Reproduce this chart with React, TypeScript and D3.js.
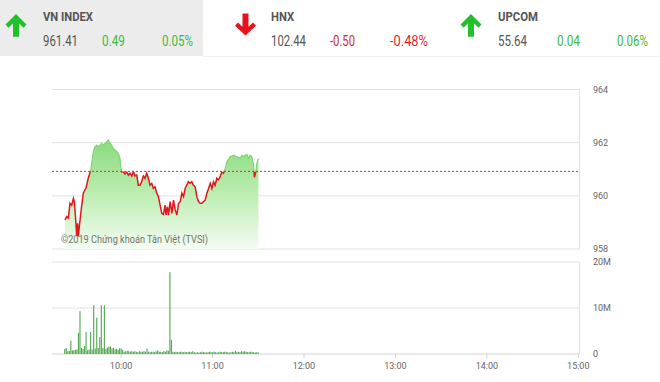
import React from "react";
import * as d3 from "d3";

// ---------- DATA ----------
const indexNames = ["VN INDEX", "HNX", "UPCOM"];
const indexValues = ["961.41", "102.44", "55.64"];
const indexChanges = ["0.49", "-0.50", "0.04"];
const indexPercents = ["0.05%", "-0.48%", "0.06%"];
const indexUp = [true, false, true];

const refPrice = 960.92;
const priceTicks = [958, 960, 962, 964];
const volumeTicks = [0, 10, 20];
const volumeTickLabels = ["0", "10M", "20M"];
const timeTicks = [600, 660, 720, 780, 840, 900];
const timeTickLabels = ["10:00", "11:00", "12:00", "13:00", "14:00", "15:00"];

// minutes after 9:00
const priceMinutes = [
  23.2, 24.4, 25.4, 26.5, 27.6, 28.7, 29.3, 30.0, 30.9, 31.5, 31.9, 33.1, 34.2, 35.2, 37.0, 38.5,
  40.1, 41.8, 42.9, 44.0, 45.1, 46.2, 47.3, 48.4, 49.5, 50.6, 51.6, 52.8, 53.9, 54.9, 56.1, 57.2,
  58.2, 59.3, 59.8, 60.5, 61.5, 62.6, 63.7, 64.8, 65.9, 67.0, 68.1, 69.2, 70.3, 71.3, 72.4, 73.5,
  74.6, 75.7, 76.8, 77.9, 79.0, 80.1, 81.2, 82.3, 83.4, 84.5, 85.6, 86.7, 87.8, 88.9, 89.5, 90.4,
  91.1, 92.2, 93.3, 94.4, 95.5, 96.6, 97.7, 98.8, 99.9, 101.0, 102.0, 103.1, 104.2, 105.3, 106.4,
  107.5, 108.6, 109.7, 110.8, 111.9, 113.0, 114.0, 115.2, 116.3, 117.4, 118.5, 119.6, 120.6, 121.7,
  122.8, 123.9, 125.0, 126.1, 127.2, 128.3, 129.4, 131.6, 133.8, 136.0, 138.1, 139.2, 140.3, 141.4,
  142.5, 143.6, 144.7, 145.8, 146.9, 147.5, 148.4, 149.1, 150.1,
];
const priceValues = [
  959.1, 959.22, 959.16, 959.72, 959.65, 959.9, 959.78, 959.28, 958.5, 958.97, 958.47, 959.1, 959.65, 960.1, 960.3, 960.67,
  960.97, 961.66, 961.85, 961.9, 961.85, 961.9, 961.98, 961.9, 961.98, 962.04, 962.1, 961.98, 961.9, 961.78, 961.72, 961.66,
  961.6, 961.4, 961.1, 960.9, 960.9, 960.82, 960.9, 960.78, 960.85, 960.75, 960.9, 960.75, 960.78, 960.4, 960.4, 960.53,
  960.75, 960.66, 960.85, 960.66, 960.4, 960.47, 960.28, 960.34, 960.1, 959.97, 959.65, 959.34, 959.3, 959.65, 959.28, 959.59,
  959.28, 959.78, 959.34, 959.84, 959.47, 959.28, 959.72, 959.78, 960.1, 959.97, 960.28, 960.4, 960.53, 960.47, 960.53,
  960.4, 960.34, 959.97, 959.78, 959.72, 959.72, 959.78, 959.84, 960.1, 960.28, 960.47, 960.28, 960.53, 960.4,
  960.66, 960.6, 960.72, 960.9, 960.85, 961.03, 961.28, 961.47, 961.53, 961.47, 961.41, 961.53, 961.47, 961.53,
  961.56, 961.41, 961.53, 961.47, 961.16, 960.7, 960.9, 961.22, 961.41,
];

// one bar per minute, from 9:23 to 11:30 (millions of shares)
const volumeStartMinute = 23;
const volumeValues = [
  1.1, 1.3, 0.6, 0.7, 2.9, 0.8, 0.8, 0.9, 1.0, 4.6, 9.3, 1.3, 1.1, 1.7, 4.8, 0.8,
  1.0, 4.8, 1.0, 10.6, 1.2, 7.9, 1.3, 3.7, 10.6, 1.3, 10.6, 1.1, 1.4, 1.6, 1.6, 1.2,
  1.3, 1.0, 1.1, 0.9, 1.2, 1.2, 0.9, 0.5, 0.6, 0.7, 0.6, 0.5, 0.6, 0.5, 0.6, 0.5,
  0.4, 0.6, 0.5, 0.5, 0.6, 0.5, 1.2, 0.5, 0.4, 0.5, 0.5, 0.4, 0.6, 0.8, 0.5, 0.5,
  0.4, 0.6, 0.5, 0.8, 0.7, 17.8, 3.1, 0.5, 0.4, 0.5, 0.4, 0.4, 0.5, 0.4, 0.4, 0.5,
  0.4, 0.4, 0.5, 0.4, 0.6, 0.4, 0.3, 0.4, 0.3, 0.4, 0.5, 0.4, 0.4, 0.3, 0.4, 0.5,
  0.4, 0.4, 0.5, 0.4, 0.3, 0.4, 0.5, 0.4, 0.4, 0.5, 0.4, 0.4, 0.3, 0.4, 0.5, 0.4,
  0.7, 0.4, 0.5, 0.4, 0.6, 0.5, 0.6, 0.5, 0.4, 0.4, 0.5, 0.4, 0.4, 0.3, 0.4, 0.3,
];

const watermark = "©2019 Chứng khoán Tân Việt (TVSI)";

// ---------- LAYOUT ----------
const W = 660;
const H = 382;
const plotLeft = 52;
const plotRight = 579.5;

const x = d3.scaleLinear().domain([555, 900]).range([52.5, 578.3]);
const yP = d3.scaleLinear().domain([958, 964]).range([249, 89.5]);
const yV = d3.scaleLinear().domain([0, 20]).range([354, 262]);

const FONT = "Roboto, 'Liberation Sans', Arial, sans-serif";

function Arrow({ up, ox }: { up: boolean; ox: number }) {
  const pts = up
    ? [[16, 14], [26.5, 24.5], [23.5, 27.8], [19, 23.4], [19, 36.7], [13, 36.7], [13, 23.4], [8.5, 27.8], [5.5, 24.5]]
    : [[13, 13.5], [19, 13.5], [19, 26.8], [23.5, 22.4], [26.5, 25.7], [16, 35.5], [5.5, 25.7], [8.5, 22.4], [13, 26.8]];
  return (
    <polygon
      points={pts.map((p) => `${p[0] + ox},${p[1]}`).join(" ")}
      fill={up ? "#22c02a" : "#e5141c"}
    />
  );
}

export default function App() {
  const pts = priceMinutes.map((t, i) => ({ m: 540 + t, v: priceValues[i] }));
  const lineGen = d3
    .line<{ m: number; v: number }>()
    .x((d) => x(d.m))
    .y((d) => yP(d.v));
  const areaGen = d3
    .area<{ m: number; v: number }>()
    .x((d) => x(d.m))
    .y0(yP(958))
    .y1((d) => yP(d.v));
  const linePath = lineGen(pts) || "";
  const areaPath = areaGen(pts) || "";
  const refY = yP(refPrice);

  const headerOffsets = [0, 228, 455];
  const nameLens = [50, 23, 40];
  const valLens = [35, 35, 29];
  const chgLens = [23, 25, 23];
  const pctLens = [31, 38, 31];

  return (
    <svg
      width={W}
      height={H}
      style={{ position: "absolute", left: 0, top: 0, background: "#fff" }}
      fontFamily={FONT}
    >
      <defs>
        <linearGradient id="areaGrad" gradientUnits="userSpaceOnUse" x1="0" y1={yP(962.2)} x2="0" y2={yP(958)}>
          <stop offset="0" stopColor="#86d97c" />
          <stop offset="0.45" stopColor="#b7ebaa" />
          <stop offset="1" stopColor="#f4fcf2" />
        </linearGradient>
        <clipPath id="aboveRef">
          <rect x={0} y={0} width={W} height={refY} />
        </clipPath>
        <clipPath id="belowRef">
          <rect x={0} y={refY} width={W} height={H - refY} />
        </clipPath>
      </defs>

      {/* header */}
      <rect x={0} y={0} width={203} height={56} fill="#ececec" />
      <line x1={203} x2={W} y1={56.5} y2={56.5} stroke="#f2f2f2" />
      {indexNames.map((name, i) => {
        const ox = headerOffsets[i];
        const chgColor = indexUp[i] ? "#3dbb3d" : "#d8282c";
        return (
          <g key={name}>
            <Arrow up={indexUp[i]} ox={ox + (indexUp[i] ? 0 : 1.5)} />
            <text x={ox + 43} y={21} fontSize={12} fontWeight="bold" fill="#555" textLength={nameLens[i]} lengthAdjust="spacingAndGlyphs">
              {name}
            </text>
            <text x={ox + 43} y={46} fontSize={14} fill="#555" textLength={valLens[i]} lengthAdjust="spacingAndGlyphs">
              {indexValues[i]}
            </text>
            <text x={ox + 102} y={46} fontSize={14} fill={chgColor} textLength={chgLens[i]} lengthAdjust="spacingAndGlyphs">
              {indexChanges[i]}
            </text>
            <text x={ox + 162} y={46} fontSize={14} fill={chgColor} textLength={pctLens[i]} lengthAdjust="spacingAndGlyphs">
              {indexPercents[i]}
            </text>
          </g>
        );
      })}

      {/* price grid */}
      {priceTicks.map((t) => (
        <g key={t}>
          <line x1={plotLeft} x2={plotRight} y1={yP(t)} y2={yP(t)} stroke="#e3e3e3" />
          <text x={593} y={yP(t) + 1} dominantBaseline="middle" fontSize={9} fill="#666">
            {t}
          </text>
        </g>
      ))}
      <line x1={plotRight} x2={plotRight} y1={yP(964)} y2={yP(958)} stroke="#dde3ea" />

      {/* area + line */}
      <path d={areaPath} fill="url(#areaGrad)" />
      <path d={linePath} fill="none" stroke="#7fd672" strokeWidth={1.2} clipPath="url(#aboveRef)" />
      <path d={linePath} fill="none" stroke="#e3161b" strokeWidth={1.5} clipPath="url(#belowRef)" />
      <line x1={plotLeft} x2={plotRight} y1={refY} y2={refY} stroke="#e8262a" strokeDasharray="2,2" strokeWidth={1} />

      <text x={61} y={243} fontSize={10} fill="#666" opacity={0.9} textLength={147} lengthAdjust="spacingAndGlyphs">
        {watermark}
      </text>

      {/* volume grid */}
      {volumeTicks.map((t, i) => (
        <g key={t}>
          <line x1={plotLeft} x2={plotRight} y1={yV(t)} y2={yV(t)} stroke={t === 0 ? "#d6d6d6" : "#e3e3e3"} />
          <text x={593} y={yV(t) + 1} dominantBaseline="middle" fontSize={9} fill="#666">
            {volumeTickLabels[i]}
          </text>
        </g>
      ))}
      <line x1={plotRight} x2={plotRight} y1={yV(20)} y2={yV(0)} stroke="#dde3ea" />

      {volumeValues.map((v, i) => {
        const m = 540 + volumeStartMinute + i;
        return (
          <rect key={i} x={x(m) - 0.5} y={yV(v)} width={1.1} height={yV(0) - yV(v)} fill="#4ea64e" />
        );
      })}

      {/* time axis */}
      {timeTicks.map((t, i) => (
        <g key={t}>
          <line x1={x(t)} x2={x(t)} y1={yV(0)} y2={yV(0) + 4} stroke="#ccd3db" />
          <text x={x(t)} y={367} textAnchor="middle" dominantBaseline="middle" fontSize={9} fill="#666">
            {timeTickLabels[i]}
          </text>
        </g>
      ))}
    </svg>
  );
}
